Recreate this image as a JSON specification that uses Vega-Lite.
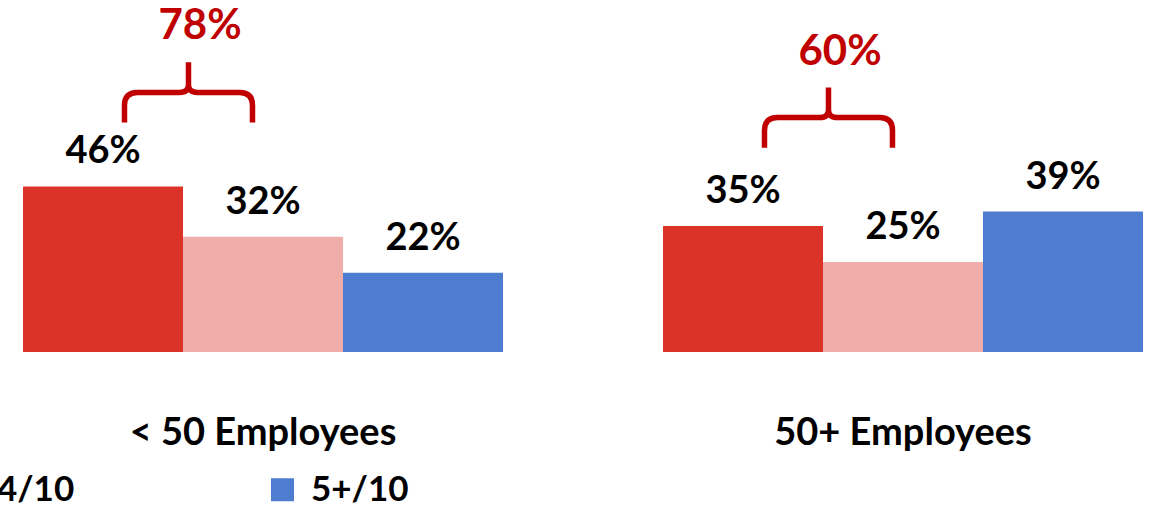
{
  "$schema": "https://vega.github.io/schema/vega-lite/v6.json",
  "width": 1120,
  "height": 180,
  "autosize": {"type": "none"},
  "padding": {"left": 23, "top": 172, "right": 10, "bottom": 155},
  "background": "white",
  "config": {"view": {"stroke": null}, "font": "Lato"},
  "data": {
    "values": [
      {"group": "< 50 Employees", "rating": "0-3/10", "value": 0.46},
      {"group": "< 50 Employees", "rating": "4/10", "value": 0.32},
      {"group": "< 50 Employees", "rating": "5+/10", "value": 0.22},
      {"group": "50+ Employees", "rating": "0-3/10", "value": 0.35},
      {"group": "50+ Employees", "rating": "4/10", "value": 0.25},
      {"group": "50+ Employees", "rating": "5+/10", "value": 0.39}
    ]
  },
  "encoding": {
    "x": {
      "field": "group",
      "type": "nominal",
      "sort": null,
      "scale": {"paddingInner": 0.25, "paddingOuter": 0},
      "axis": {
        "title": null,
        "domain": false,
        "ticks": false,
        "labelAngle": 0,
        "labelPadding": 62,
        "labelFont": "Lato",
        "labelFontSize": 38,
        "labelFontWeight": "bold",
        "labelColor": "#000000",
        "labelLimit": 0
      }
    }
  },
  "layer": [
    {
      "mark": {"type": "bar"},
      "encoding": {
        "xOffset": {"field": "rating", "type": "nominal", "sort": null, "scale": {"paddingInner": 0, "paddingOuter": 0}},
        "y": {"field": "value", "type": "quantitative", "scale": {"domain": [0, 0.5]}, "axis": null},
        "color": {
          "field": "rating",
          "type": "nominal",
          "sort": null,
          "scale": {"domain": ["0-3/10", "4/10", "5+/10"], "range": ["#DC3328", "#F0ADAA", "#4E7CD0"]},
          "legend": {
            "title": null,
            "orient": "none",
            "direction": "horizontal",
            "legendX": -419,
            "legendY": 300,
            "symbolType": "square",
            "symbolSize": 529,
            "symbolStrokeWidth": 0,
            "symbolOpacity": 1,
            "labelFont": "Lato",
            "labelFontSize": 35,
            "labelFontWeight": "bold",
            "labelColor": "#000000",
            "labelOffset": 11,
            "labelLimit": 0,
            "columnPadding": 190,
            "padding": 0
          }
        }
      }
    },
    {
      "mark": {"type": "text", "font": "Lato", "fontSize": 38, "fontWeight": "bold", "color": "#000000", "baseline": "alphabetic", "dy": -23},
      "encoding": {
        "xOffset": {"field": "rating", "type": "nominal", "sort": null},
        "y": {"field": "value", "type": "quantitative"},
        "text": {"field": "value", "type": "quantitative", "format": ".0%"}
      }
    },
    {
      "transform": [
        {"joinaggregate": [{"op": "max", "field": "value", "as": "top"}], "groupby": ["group"]},
        {"filter": "datum.rating != '5+/10'"},
        {"joinaggregate": [{"op": "sum", "field": "value", "as": "total"}], "groupby": ["group"]},
        {"filter": "datum.rating == '0-3/10'"}
      ],
      "layer": [
        {
          "mark": {
            "type": "point",
            "shape": "M -1 0.47 L -1 0.2 Q -1 0 -0.8 0 L -0.14 0 Q 0 0 0 -0.12 L 0 -0.47 M 0 -0.12 Q 0 0 0.14 0 L 0.8 0 Q 1 0 1 0.2 L 1 0.47",
            "size": 16384,
            "filled": false,
            "color": "#C00000",
            "strokeWidth": 5.5,
            "opacity": 1,
            "xOffset": 5.5,
            "yOffset": -94
          },
          "encoding": {
            "x": {"field": "group", "type": "nominal", "sort": null, "bandPosition": 0.3333},
            "y": {"field": "top", "type": "quantitative"}
          }
        },
        {
          "mark": {"type": "text", "font": "Lato", "fontSize": 42, "fontWeight": "bold", "color": "#C00000", "baseline": "alphabetic", "xOffset": 17, "yOffset": -147},
          "encoding": {
            "x": {"field": "group", "type": "nominal", "sort": null, "bandPosition": 0.3333},
            "y": {"field": "top", "type": "quantitative"},
            "text": {"field": "total", "type": "quantitative", "format": ".0%"}
          }
        }
      ]
    }
  ]
}
